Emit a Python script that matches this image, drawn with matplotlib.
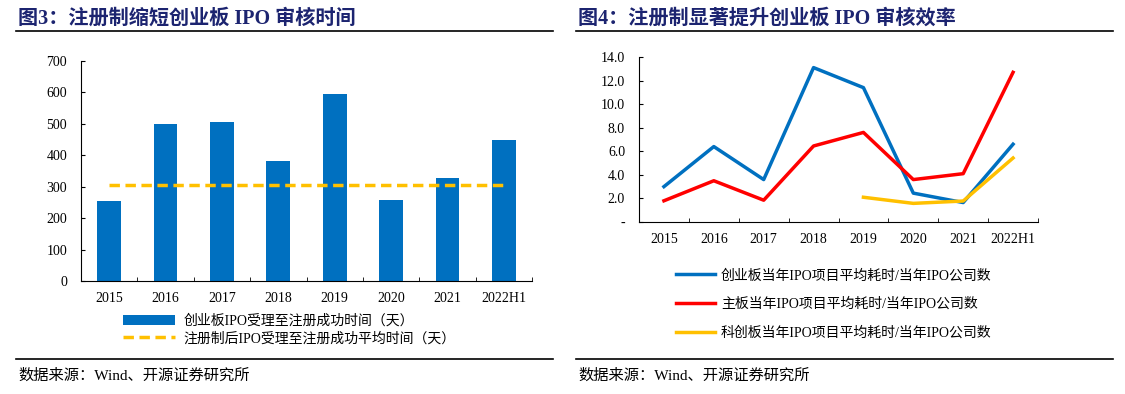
import matplotlib.pyplot as plt
import numpy as np

plt.rcParams['font.family'] = ['Liberation Serif', 'Noto Sans CJK SC']

years = ['2015', '2016', '2017', '2018', '2019', '2020', '2021', '2022H1']

# left chart: review days
days = [254, 499, 506, 381, 595, 259, 327, 448]
avg_days = 305

# right chart: average time / number of IPOs
gem = [3.0, 6.4, 3.6, 13.1, 11.4, 2.45, 1.65, 6.6]
main = [1.8, 3.5, 1.85, 6.45, 7.6, 3.6, 4.1, 12.7]
star_years = ['2019', '2020', '2021', '2022H1']
star = [2.1, 1.58, 1.78, 5.43]

title_color = '#1c2470'
blue = '#0070C0'
red = '#FF0000'
gold = '#FFC000'

W, H = 1125, 394
fig = plt.figure(figsize=(W / 100, H / 100), dpi=100)


def px(x0, y0, x1, y1):
    return [x0 / W, 1 - y1 / H, (x1 - x0) / W, (y1 - y0) / H]


def frame(x0, x1, title):
    fig.text(x0 / W + 0.002, 1 - 19 / H, title, fontsize=14.5, fontweight='bold',
             color=title_color, va='center', ha='left')
    fig.add_artist(plt.Line2D([x0 / W, x1 / W], [1 - 31 / H] * 2, color='black', lw=1.2))
    fig.add_artist(plt.Line2D([x0 / W, x1 / W], [1 - 359 / H] * 2, color='black', lw=1.2))
    fig.text(x0 / W + 0.002, 1 - 376 / H, '数据来源：Wind、开源证券研究所', fontsize=11,
             color='black', va='center', ha='left')


frame(16, 553, '图3：注册制缩短创业板 IPO 审核时间')
frame(576, 1113, '图4：注册制显著提升创业板 IPO 审核效率')

# ---- left chart
ax1 = fig.add_axes(px(81, 61, 532, 281))
x = np.arange(len(years))
bars = ax1.bar(x, days, width=0.42, color=blue, label='创业板IPO受理至注册成功时间（天）')
avg_line, = ax1.plot(x, [avg_days] * len(x), color=gold, lw=2.5, ls=(0, (3, 1.6)),
                     label='注册制后IPO受理至注册成功平均时间（天）')
ax1.set_xlim(-0.5, 7.5)
ax1.set_ylim(0, 700)
ax1.set_yticks(range(0, 701, 100))
ax1.set_xticks(x)
ax1.set_xticklabels(years)
ax1.set_xticks(np.arange(0.5, 7.6, 1), minor=True)
ax1.tick_params(axis='x', which='major', length=0, labelsize=10, pad=8)
ax1.tick_params(axis='x', which='minor', direction='in', length=3)
ax1.tick_params(axis='y', direction='in', length=3, labelsize=10, pad=10)
for s in ['top', 'right']:
    ax1.spines[s].set_visible(False)
ax1.legend([bars, avg_line], [bars.get_label(), avg_line.get_label()],
           loc='upper left', bbox_to_anchor=(0.08, -0.125), frameon=False, fontsize=10,
           handlelength=3.8, labelspacing=0.3, borderaxespad=0, handletextpad=0.6)

# ---- right chart
ax2 = fig.add_axes(px(639, 57, 1038, 222))
ax2.plot(x, gem, color=blue, lw=2.5, label='创业板当年IPO项目平均耗时/当年IPO公司数')
ax2.plot(x, main, color=red, lw=2.5, label='主板当年IPO项目平均耗时/当年IPO公司数')
xs = [years.index(y) for y in star_years]
ax2.plot(xs, star, color=gold, lw=2.5, label='科创板当年IPO项目平均耗时/当年IPO公司数')
ax2.set_xlim(-0.5, 7.5)
ax2.set_ylim(0, 14)
ax2.set_yticks(np.arange(0, 14.1, 2))
ax2.set_yticklabels(['-'] + ['%.1f' % v for v in np.arange(2, 14.1, 2)])
ax2.set_xticks(x)
ax2.set_xticklabels(years)
ax2.set_xticks(np.arange(0.5, 7.6, 1), minor=True)
ax2.tick_params(axis='x', which='major', length=0, labelsize=10, pad=8)
ax2.tick_params(axis='x', which='minor', direction='in', length=3)
ax2.tick_params(axis='y', direction='in', length=3, labelsize=10, pad=10)
for s in ['top', 'right']:
    ax2.spines[s].set_visible(False)
ax2.legend(loc='upper left', bbox_to_anchor=(0.08, -0.25), frameon=False, fontsize=10,
           handlelength=2.8, labelspacing=1.1, borderaxespad=0, handletextpad=0.4)

fig.savefig('out.png', dpi=100)
